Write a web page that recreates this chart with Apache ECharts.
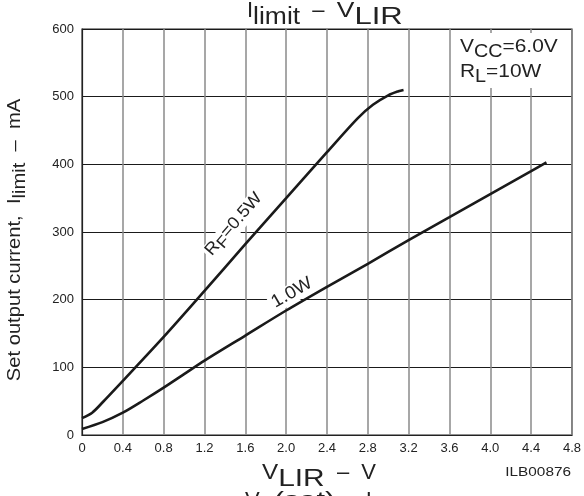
<!DOCTYPE html>
<html><head><meta charset="utf-8">
<script src="https://cdn.jsdelivr.net/npm/echarts@6/dist/echarts.min.js"></script>
<style>html,body{margin:0;padding:0;background:#fff}#c{width:584px;height:496px}</style>
</head><body><div id="c"></div>
<script>
// ---- data ----
const xTicks = [0, 0.4, 0.8, 1.2, 1.6, 2.0, 2.4, 2.8, 3.2, 3.6, 4.0, 4.4, 4.8];
const yTicks = [0, 100, 200, 300, 400, 500, 600];
const rf05V = [0, 0.1, 0.2, 0.4, 0.8, 1.2, 1.6, 2.0, 2.4, 2.7, 2.85, 3.0, 3.1, 3.15];
const rf05I = [25, 33, 48, 80, 145, 213, 282, 350, 418, 468, 488, 502, 508, 510];
const rf10V = [0, 0.2, 0.4, 0.6, 0.8, 1.0, 1.2, 1.6, 2.0, 2.4, 2.8, 3.2, 3.6, 4.0, 4.4, 4.55];
const rf10I = [9, 19, 33, 51, 70, 90, 110, 147, 184, 219, 253, 288, 322, 356, 390, 403];

const FONT = '"Liberation Sans", Arial, Helvetica, sans-serif';
const INK = '#222';
const cv = document.createElement('canvas').getContext('2d');
function tw(t, s) { cv.font = s + 'px ' + FONT; return cv.measureText(t).width; }
// parts: [text, size, dy, scaleX]; y = baseline of main text
function rich(parts, o) {
  const z = o.z || 2;
  let total = 0; parts.forEach(p => total += tw(p[0], p[1]) * (p[3] || 1));
  let x = o.align === 'center' ? -total / 2 : (o.align === 'right' ? -total : 0);
  const children = [];
  if (o.bg) children.push({type: 'rect', z: z - 1, shape: {x: x - o.bg[0], y: -o.bg[1], width: total + 2 * o.bg[0], height: o.bg[1] + o.bg[2]}, style: {fill: '#fff'}});
  parts.forEach(p => {
    const sx = p[3] || 1;
    children.push({type: 'text', z: z, x: x, y: (p[2] || 0) - 0.34 * p[1], scaleX: sx,
      style: {text: p[0], font: p[1] + 'px ' + FONT, fill: INK, align: 'left', verticalAlign: 'middle'}});
    x += tw(p[0], p[1]) * sx;
  });
  return {type: 'group', x: o.x, y: o.y, rotation: o.rot || 0, silent: true, children};
}

const chart = echarts.init(document.getElementById('c'));
const pairs = (xs, ys) => xs.map((v, i) => [v, ys[i]]);

chart.setOption({
  animation: false,
  backgroundColor: '#fff',
  grid: {left: 82, right: 11, top: 29, bottom: 61, show: true, borderColor: INK, borderWidth: 1.2, backgroundColor: 'transparent'},
  xAxis: {
    type: 'value', min: xTicks[0], max: xTicks[xTicks.length - 1], interval: 0.4,
    axisLine: {show: true, lineStyle: {color: INK, width: 1.2}},
    axisTick: {show: false},
    axisLabel: {color: INK, fontSize: 13, fontFamily: FONT, margin: 7,
      formatter: v => v === 0 ? '0' : v.toFixed(1)},
    splitLine: {show: true, lineStyle: {color: '#8a8a8a', width: 1.5}}
  },
  yAxis: {
    type: 'value', min: yTicks[0], max: yTicks[yTicks.length - 1], interval: 100,
    axisLine: {show: true, lineStyle: {color: INK, width: 1.2}},
    axisTick: {show: false},
    axisLabel: {color: INK, fontSize: 13, fontFamily: FONT, margin: 8},
    splitLine: {show: true, lineStyle: {color: '#1a1a1a', width: 1}}
  },
  series: [
    {type: 'line', data: pairs(rf05V, rf05I), smooth: 0.3, showSymbol: false, z: 5,
      lineStyle: {color: '#1a1a1a', width: 2.6}},
    {type: 'line', data: pairs(rf10V, rf10I), smooth: 0.3, showSymbol: false, z: 5,
      lineStyle: {color: '#1a1a1a', width: 2.6}}
  ],
  graphic: [
    rich([['I', 22], ['limit', 23, 7, 1.15], ['  –  ', 22], ['V', 22, 0, 1.2], ['LIR', 23, 7, 1.35]], {x: 247, y: 18, align: 'left'}),
    rich([['V', 22, 0, 1.1], ['LIR', 23, 7, 1.3], ['  –  V', 22]], {x: 262, y: 480, align: 'left'}),
    rich([['ILB00876', 13, 0, 1.18]], {x: 571, y: 477, align: 'right'}),
    rich([['V', 22], ['O', 18, 6], ['(sat)', 22, 0, 1.4], ['     ', 22], ['I', 22], ['O', 18, 6]], {x: 245, y: 508, align: 'left'}),
    rich([['Set output current,  I', 18, 0, 1.12], ['limit', 18, 5, 1.12], ['  –  mA', 18, 0, 1.12]], {x: 21, y: 240, align: 'center', rot: Math.PI / 2}),
    {type: 'rect', z: 1, shape: {x: 452, y: 33, width: 119, height: 55}, style: {fill: '#fff'}, silent: true},
    rich([['V', 19, 0, 1.1], ['CC', 18, 5, 1.1], ['=6.0V', 19, 0, 1.1]], {x: 460, y: 53, align: 'left'}),
    rich([['R', 19, 0, 1.1], ['L', 18, 5, 1.1], ['=10W', 19, 0, 1.1]], {x: 460, y: 78, align: 'left'}),
    rich([['R', 17, 0, 1.08], ['F', 16, 4, 1.08], ['=0.5W', 17, 0, 1.08]], {x: 238, y: 228, align: 'center', rot: 49 * Math.PI / 180, bg: [2, 14, 5]}),
    rich([['1.0W', 18, 0, 1.05]], {x: 295, y: 298, align: 'center', rot: 30 * Math.PI / 180, bg: [3, 15, 4]})
  ]
});
</script>
</body></html>
